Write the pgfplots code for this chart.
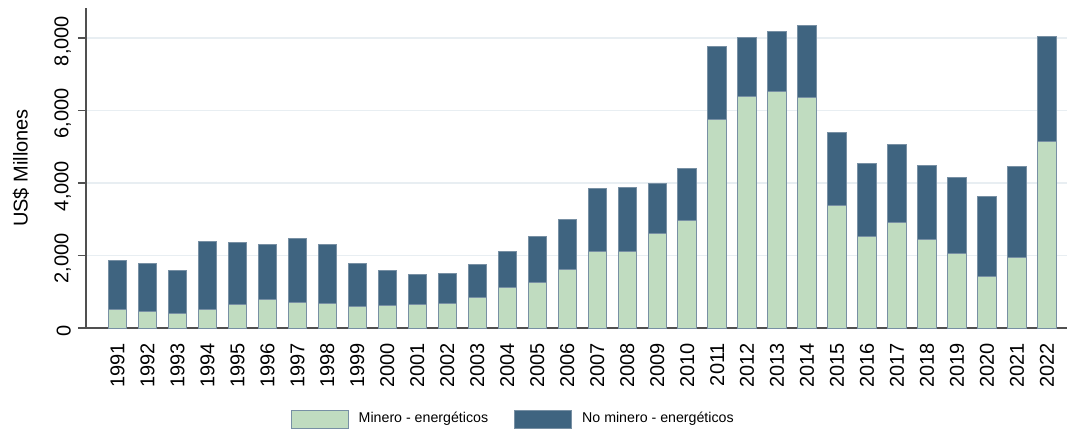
\documentclass[border=0pt]{standalone}
\usepackage{fontspec}
\setmainfont{Liberation Sans}
\usepackage{pgfplots}
\usepackage{pgfplotstable}
\pgfplotsset{compat=1.18}
\definecolor{mgreen}{HTML}{C0DCC0}
\definecolor{mblue}{HTML}{3F6480}
\definecolor{medge}{HTML}{7890A4}
\definecolor{mgrid}{HTML}{E8EEF2}
\definecolor{maxis}{HTML}{505050}
\pgfplotstableread{
year green other
1991 520 1330
1992 450 1330
1993 405 1195
1994 500 1880
1995 640 1730
1996 790 1505
1997 710 1760
1998 680 1620
1999 600 1190
2000 610 990
2001 650 830
2002 670 830
2003 850 900
2004 1130 970
2005 1245 1280
2006 1620 1380
2007 2110 1730
2008 2110 1770
2009 2600 1390
2010 2960 1445
2011 5750 2020
2012 6390 1630
2013 6525 1665
2014 6370 1970
2015 3380 2010
2016 2535 2010
2017 2910 2140
2018 2450 2040
2019 2055 2095
2020 1420 2195
2021 1935 2525
2022 5160 2880
}\datatable
\begin{document}
\begin{tikzpicture}[font=\fontsize{10}{12}\selectfont]
\useasboundingbox (-43pt,-50.5pt) rectangle (490.5pt,164pt);
\begin{axis}[
  at={(0,0)}, anchor=south west,
  scale only axis,
  width=490.5pt, height=160pt,
  ybar stacked,
  bar width=9.15pt,
  xmin=1989.95, xmax=2022.67,
  ymin=0, ymax=8830,
  axis x line*=bottom,
  axis y line*=left,
  axis line style={maxis, line width=0.6pt},
  xtick=data,
  xtick style={draw=none},
  ytick={0,2000,4000,6000,8000},
  ytick style={maxis, line width=0.6pt},
  tick align=outside,
  major tick length=4pt,
  ymajorgrids,
  grid style={mgrid, line width=0.8pt},
  /pgf/number format/assume math mode=true,
  xticklabel style={rotate=90, anchor=east, /pgf/number format/1000 sep={}, font=\fontsize{10}{12}\selectfont},
  yticklabel style={rotate=90, anchor=south, xshift=-1.5pt, /pgf/number format/1000 sep={,}, font=\fontsize{10}{12}\selectfont},
  scaled y ticks=false,
  ylabel={US\$ Millones},
  ylabel style={font=\fontsize{10}{12}\selectfont, at={(axis description cs:-0.051,0.5)}, anchor=south, rotate=0},
  legend columns=2,
  legend style={at={(0.4355,-0.285)}, anchor=center, draw=none, fill=none,
    font=\fontsize{7.1}{9}\selectfont,
    nodes={inner sep=1pt},
    /tikz/every odd column/.append style={column sep=4pt},
    /tikz/every even column/.append style={column sep=12pt}},
  legend image code/.code={\draw[#1] (0pt,-4.5pt) rectangle (28.5pt,4.5pt);},
  every axis plot/.append style={draw=medge, line width=0.5pt},
]
\addplot[fill=mgreen, draw=medge] table[x=year, y=green] {\datatable};
\addplot[fill=mblue, draw=medge] table[x=year, y=other] {\datatable};
\legend{Minero - energéticos, No minero - energéticos}
\end{axis}
\end{tikzpicture}
\end{document}
